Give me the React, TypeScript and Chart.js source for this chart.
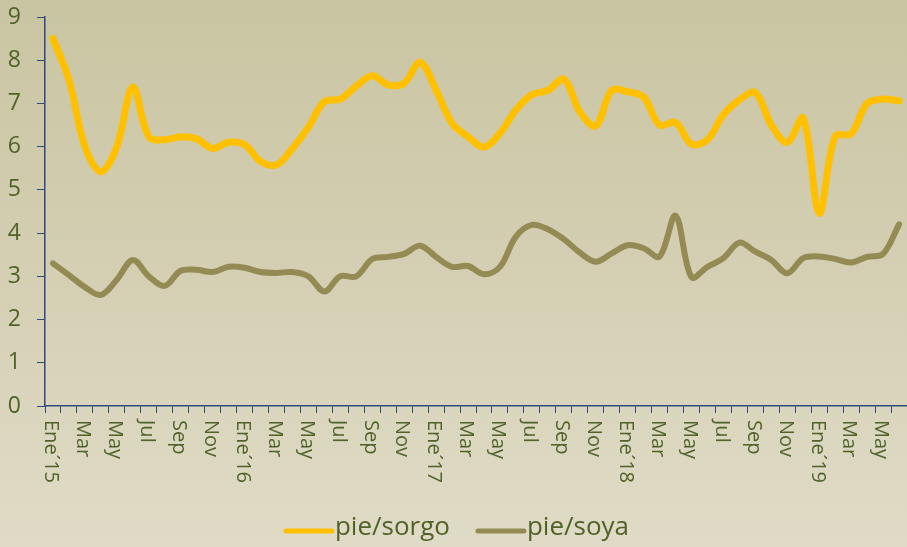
import React, { useEffect, useRef } from "react";
import { Chart, registerables } from "chart.js";

Chart.register(...registerables);

const monthNames = ["Ene", "Feb", "Mar", "Abr", "May", "Jun", "Jul", "Ago", "Sep", "Oct", "Nov", "Dic"];
const years = ["15", "16", "17", "18", "19"];
const categories: string[] = [];
for (const y of years) {
  for (let m = 0; m < 12; m++) {
    if (categories.length >= 54) break;
    categories.push(m === 0 ? `Ene´${y}` : monthNames[m]);
  }
}

const pieSorgo = [
  8.5, 7.55, 6.0, 5.42, 6.0, 7.38, 6.23, 6.16, 6.23, 6.18, 5.96, 6.1,
  6.05, 5.66, 5.58, 5.96, 6.45, 7.04, 7.1, 7.4, 7.64, 7.43, 7.47, 7.95,
  7.31, 6.54, 6.23, 5.99, 6.31, 6.85, 7.2, 7.3, 7.56, 6.81, 6.48, 7.3,
  7.27, 7.15, 6.5, 6.56, 6.06, 6.16, 6.74, 7.08, 7.25, 6.5, 6.1, 6.66,
  4.46, 6.24, 6.3, 7.0, 7.1, 7.06,
];

const pieSoya = [
  3.3, 3.03, 2.75, 2.57, 2.92, 3.38, 3.0, 2.78, 3.13, 3.15, 3.1, 3.22,
  3.2, 3.1, 3.08, 3.1, 3.0, 2.65, 3.0, 3.0, 3.4, 3.45, 3.52, 3.71,
  3.45, 3.22, 3.24, 3.05, 3.22, 3.92, 4.19, 4.09, 3.86, 3.55, 3.34, 3.53,
  3.72, 3.65, 3.46, 4.4, 2.98, 3.22, 3.42, 3.78, 3.57, 3.38, 3.07, 3.42,
  3.46, 3.4, 3.32, 3.45, 3.52, 4.2,
];

const seriesNames = ["pie/sorgo", "pie/soya"];
const seriesColors = ["#FFC000", "#948A54"];
const yTicks = [0, 1, 2, 3, 4, 5, 6, 7, 8, 9];

const textColor = "#4F6228";
const axisColor = "#2F4A78";
const fontFamily = "'Open Sans', 'Noto Sans', sans-serif";

export default function App() {
  const ref = useRef<HTMLCanvasElement | null>(null);

  useEffect(() => {
    document.body.style.margin = "0";
    const canvas = ref.current;
    if (!canvas) return;

    const bgPlugin = {
      id: "bg",
      beforeDraw(chart: any) {
        const { ctx, width, height } = chart;
        const g = ctx.createLinearGradient(0, 0, 0, height);
        g.addColorStop(0, "#C9C4A1");
        g.addColorStop(1, "#E0DBC6");
        ctx.save();
        ctx.fillStyle = g;
        ctx.fillRect(0, 0, width, height);
        ctx.restore();
      },
    };

    const labelsPlugin = {
      id: "customLabels",
      afterDraw(chart: any) {
        const { ctx } = chart;
        const xs = chart.scales.x;
        ctx.save();
        ctx.fillStyle = textColor;
        ctx.font = `20px ${fontFamily}`;
        ctx.textAlign = "left";
        ctx.textBaseline = "middle";
        categories.forEach((lab, i) => {
          if (i % 2 !== 0) return;
          const x = xs.getPixelForValue(i);
          ctx.save();
          ctx.translate(x - 2, xs.top + 14);
          ctx.rotate(Math.PI / 2);
          ctx.fillText(lab, 0, 0);
          ctx.restore();
        });

        // legend
        ctx.font = `26px ${fontFamily}`;
        ctx.textBaseline = "middle";
        const lineLen = 46;
        const gap = 3;
        const spacing = 28;
        const widths = seriesNames.map((n) => ctx.measureText(n).width);
        const total = widths.reduce((a, b) => a + b, 0) + seriesNames.length * (lineLen + gap) + spacing;
        let x = chart.width / 2 - total / 2 + 4;
        const y = 530;
        seriesNames.forEach((n, i) => {
          ctx.strokeStyle = seriesColors[i];
          ctx.lineWidth = 5;
          ctx.lineCap = "round";
          ctx.beginPath();
          ctx.moveTo(x, y + 1);
          ctx.lineTo(x + lineLen, y + 1);
          ctx.stroke();
          x += lineLen + gap;
          ctx.fillStyle = textColor;
          ctx.fillText(n, x, y - 2);
          x += widths[i] + spacing;
        });
        ctx.restore();
      },
    };

    const chart = new Chart(canvas, {
      type: "line",
      data: {
        labels: categories,
        datasets: [
          {
            label: seriesNames[0],
            data: pieSorgo,
            borderColor: seriesColors[0],
            backgroundColor: seriesColors[0],
            borderWidth: 7,
            pointRadius: 0,
            tension: 0.35,
            borderCapStyle: "round",
            borderJoinStyle: "round",
          },
          {
            label: seriesNames[1],
            data: pieSoya,
            borderColor: seriesColors[1],
            backgroundColor: seriesColors[1],
            borderWidth: 6,
            pointRadius: 0,
            tension: 0.35,
            borderCapStyle: "round",
            borderJoinStyle: "round",
          },
        ],
      },
      options: {
        responsive: false,
        animation: false,
        layout: { padding: { top: 17, right: 0, left: 0, bottom: 0 } },
        plugins: {
          legend: { display: false },
          tooltip: { enabled: false },
        },
        scales: {
          x: {
            type: "category",
            offset: true,
            grid: {
              offset: true,
              drawOnChartArea: false,
              drawTicks: true,
              tickLength: 7,
              color: axisColor,
              lineWidth: 1,
            },
            border: { color: axisColor, width: 1.5 },
            ticks: { display: false, autoSkip: false },
            afterFit(scale: any) {
              scale.height = 141;
              scale.paddingLeft = 0;
              scale.paddingRight = 0;
            },
          },
          y: {
            min: 0,
            max: 9,
            afterBuildTicks(scale: any) {
              scale.ticks = yTicks.map((v) => ({ value: v }));
            },
            grid: {
              drawOnChartArea: false,
              drawTicks: true,
              tickLength: 8,
              color: axisColor,
            },
            border: { color: axisColor, width: 1.5 },
            ticks: {
              color: textColor,
              font: { size: 23, family: fontFamily },
              padding: 16,
            },
            afterFit(scale: any) {
              scale.width = 45;
              scale.paddingTop = 0;
              scale.paddingBottom = 0;
            },
          },
        },
      },
      plugins: [bgPlugin, labelsPlugin],
    } as any);

    return () => chart.destroy();
  }, []);

  return (
    <div style={{ width: 907, height: 547 }}>
      <canvas ref={ref} width={907} height={547} style={{ display: "block" }} />
    </div>
  );
}
